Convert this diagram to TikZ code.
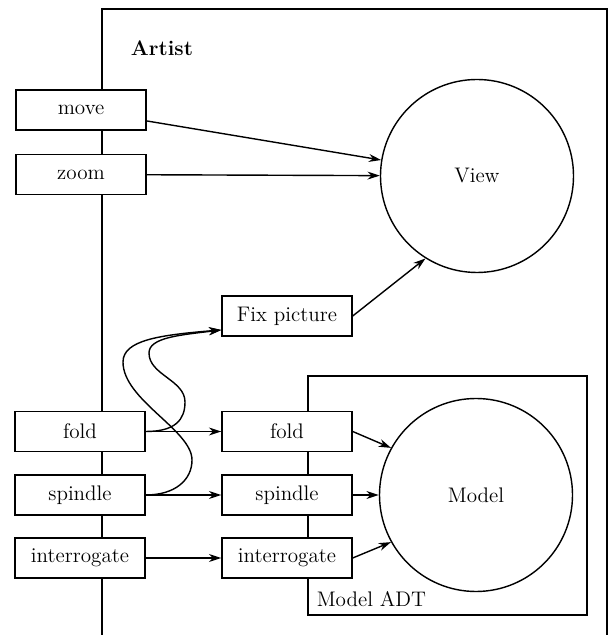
\documentclass[tikz,border=0pt]{standalone}
\usepackage{tikz}
\usetikzlibrary{arrows.meta}

\begin{document}
\begin{tikzpicture}[line width=0.8pt,
		opbox/.style={draw, fill=white, minimum width=2.6cm, minimum height=0.8cm, inner sep=0pt, font=\large},
		blob/.style={draw, circle, minimum size=3.86cm, inner sep=0pt, font=\large},
		arr/.style={-{Stealth[length=7pt, width=4.5pt]}}]
	% Frames, nodes and arrows:
	\useasboundingbox (0, 0) rectangle (12.2, 12.7);
	\draw (2.04, 0) -- (2.04, 12.52) -- (12.14, 12.52) -- (12.14, 0);
	\node[font=\large\bfseries](artist) at (3.24, 11.74){Artist};
	\node[draw, minimum width=5.58cm, minimum height=4.78cm, inner sep=0pt](adt) at (8.95, 2.79){};
	\node[anchor=south west, inner sep=5pt, font=\large](adtlabel) at (adt.south west){Model ADT};
	\node[opbox](move) at (1.62, 10.5){move};
	\node[opbox](zoom) at (1.62, 9.21){zoom};
	\node[opbox](afold) at (1.6, 4.07){fold};
	\node[opbox](aspindle) at (1.6, 2.8){spindle};
	\node[opbox](ainterrogate) at (1.6, 1.54){interrogate};
	\node[opbox](fix) at (5.74, 6.38){Fix picture};
	\node[opbox](mfold) at (5.74, 4.07){fold};
	\node[opbox](mspindle) at (5.74, 2.8){spindle};
	\node[opbox](minterrogate) at (5.74, 1.54){interrogate};
	\node[blob](view) at (9.54, 9.18){View};
	\node[blob](model) at (9.52, 2.8){Model};
	\draw[arr] (move) -- (view);
	\draw[arr] (zoom) -- (view);
	\draw[arr] (fix.east) -- (view.238);
	\draw[arr] (afold) -- (mfold);
	\draw[arr] (aspindle) -- (mspindle);
	\draw[arr] (ainterrogate) -- (minterrogate);
	\draw[arr] (mfold.east) -- (model.151);
	\draw[arr] (mspindle) -- (model);
	\draw[arr] (minterrogate.east) -- (model.209);
	\draw[arr] (afold.east) .. controls (3.5, 4.07) and (3.7, 4.3) .. (3.7, 4.66)
		.. controls (3.7, 5.1) and (2.98, 5.2) .. (2.98, 5.64)
		.. controls (2.98, 5.95) and (3.6, 6.0) .. (fix.192);
	\draw[arr] (aspindle.east) .. controls (3.5, 2.8) and (3.84, 3.1) .. (3.84, 3.5)
		.. controls (3.84, 4.1) and (2.46, 4.7) .. (2.46, 5.46)
		.. controls (2.46, 5.9) and (3.2, 6.0) .. (fix.192);
\end{tikzpicture}
\end{document}
